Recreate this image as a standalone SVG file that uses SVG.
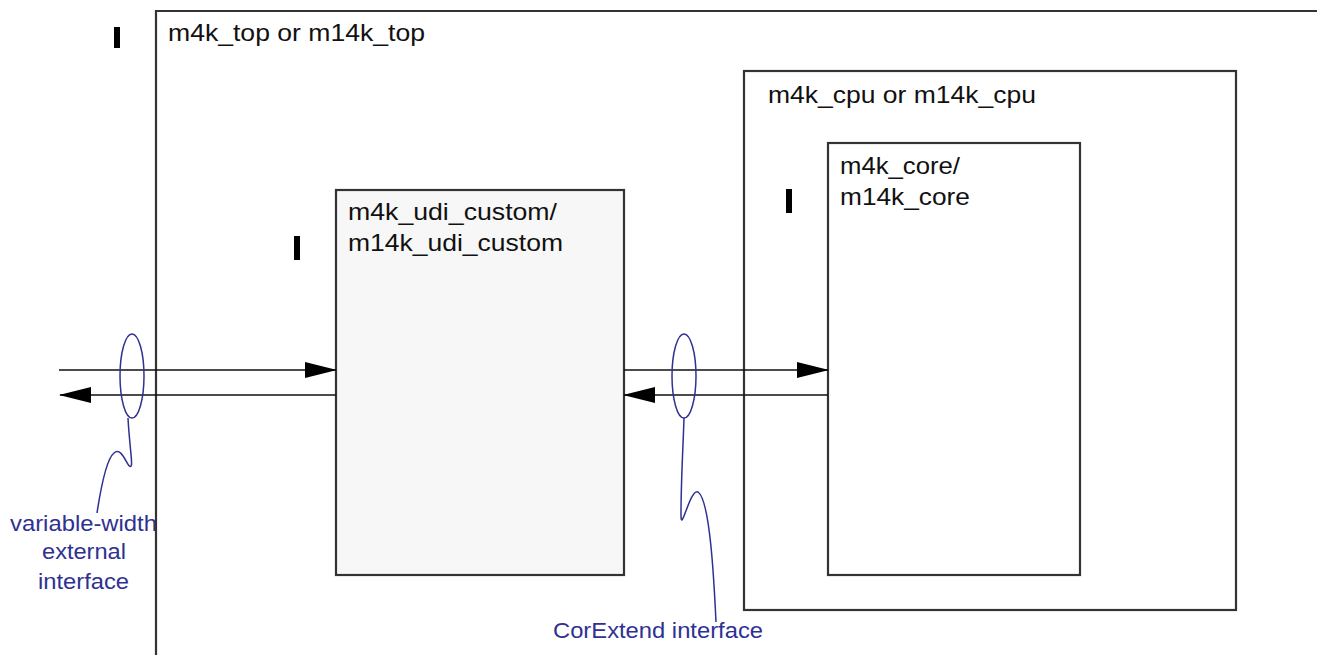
<svg xmlns="http://www.w3.org/2000/svg" width="1317" height="655" viewBox="0 0 1317 655">
<style>
.box{fill:none;stroke:#333;stroke-width:2.2}
.udi{fill:#f7f7f7;stroke:#333;stroke-width:2.2}
.t{font-family:"Liberation Sans",Arial,sans-serif;font-size:24px;fill:#111}
.lbl{font-family:"Liberation Sans",Arial,sans-serif;font-size:22px;fill:#2e3192;text-anchor:middle}
.wire{stroke:#111;stroke-width:1.6;fill:none}
.blue{fill:none;stroke:#2e3192;stroke-width:1.5}
</style>
<defs>
<marker id="ah" markerWidth="32" markerHeight="16" refX="31" refY="8" orient="auto" markerUnits="userSpaceOnUse">
<path d="M0,0 L32,8 L0,16 Z" fill="#000"/>
</marker>
</defs>
<rect width="1317" height="655" fill="#fff"/>
<g id="top">
<path class="box" d="M156,655 L156,11 L1317,11"/>
<text class="t" x="168" y="41" textLength="257" lengthAdjust="spacingAndGlyphs">m4k_top or m14k_top</text>
<rect x="114" y="27" width="6" height="21" fill="#000"/>
</g>
<g id="cpu">
<rect class="box" x="744" y="71" width="492" height="539"/>
<text class="t" x="768" y="103" textLength="268" lengthAdjust="spacingAndGlyphs">m4k_cpu or m14k_cpu</text>
</g>
<g id="core">
<rect class="box" x="828" y="143" width="252" height="432"/>
<text class="t" x="840" y="174" textLength="120" lengthAdjust="spacingAndGlyphs">m4k_core/</text>
<text class="t" x="840" y="205" textLength="130" lengthAdjust="spacingAndGlyphs">m14k_core</text>
<rect x="786" y="189" width="6" height="24" fill="#000"/>
</g>
<g id="udi">
<rect class="udi" x="336" y="190" width="288" height="385"/>
<text class="t" x="348" y="220" textLength="209" lengthAdjust="spacingAndGlyphs">m4k_udi_custom/</text>
<text class="t" x="348" y="251" textLength="215" lengthAdjust="spacingAndGlyphs">m14k_udi_custom</text>
<rect x="294" y="236" width="6" height="24" fill="#000"/>
</g>
<g id="connectors">
<line class="wire" x1="59" y1="370" x2="336" y2="370" marker-end="url(#ah)"/>
<line class="wire" x1="336" y1="395" x2="60" y2="395" marker-end="url(#ah)"/>
<line class="wire" x1="624" y1="370" x2="828" y2="370" marker-end="url(#ah)"/>
<line class="wire" x1="828" y1="395" x2="624" y2="395" marker-end="url(#ah)"/>
</g>
<g id="ext-iface">
<ellipse class="blue" cx="132" cy="376" rx="12" ry="42"/>
<path class="blue" d="M128,418 C129,440 133,466 131,466 C128,470 122,445 114,453 C105,460 99,500 97,513"/>
<text class="lbl" x="83.5" y="531" textLength="147" lengthAdjust="spacingAndGlyphs">variable-width</text>
<text class="lbl" x="84" y="559" textLength="84" lengthAdjust="spacingAndGlyphs">external</text>
<text class="lbl" x="83.5" y="589" textLength="91" lengthAdjust="spacingAndGlyphs">interface</text>
</g>
<g id="cx-iface">
<ellipse class="blue" cx="684" cy="376" rx="12" ry="42"/>
<path class="blue" d="M684,418 C683,450 681,480 681,515 C681,535 690,488 698,492 C710,500 714,580 716,622"/>
<text class="lbl" x="658" y="638" textLength="210" lengthAdjust="spacingAndGlyphs">CorExtend interface</text>
</g>
</svg>
